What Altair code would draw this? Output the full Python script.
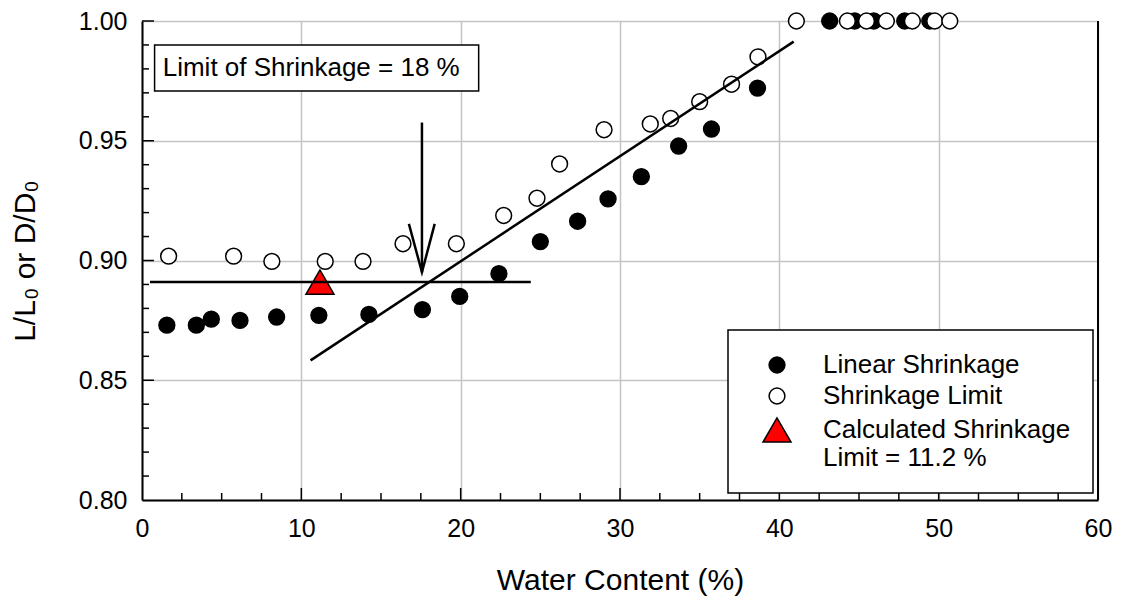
import altair as alt
import pandas as pd

# ---------------- data ----------------
series_names = ["Linear Shrinkage", "Shrinkage Limit", "Calculated Shrinkage Limit = 11.2 %"]

linear_w = [1.56, 3.41, 4.35, 6.15, 8.45, 11.1, 14.24, 17.6, 19.94, 22.4, 25.0, 27.34, 29.25,
            31.34, 33.68, 35.74, 38.63, 43.16, 44.73, 45.93, 47.87, 49.44]
linear_v = [0.873, 0.873, 0.8755, 0.875, 0.8764, 0.8771, 0.8775, 0.8795, 0.885, 0.8945, 0.9079,
            0.9164, 0.9257, 0.935, 0.9478, 0.9549, 0.972, 1.0, 1.0, 1.0, 1.0, 1.0]

limit_w = [1.67, 5.75, 8.15, 11.5, 13.87, 16.38, 19.73, 22.7, 24.79, 26.21, 29.0, 31.9, 33.18,
           35.0, 37.0, 38.66, 41.07, 44.27, 45.47, 46.72, 48.35, 49.75, 50.7]
limit_v = [0.9018, 0.9018, 0.8996, 0.8996, 0.8996, 0.907, 0.907, 0.9188, 0.926, 0.9403, 0.9546,
           0.957, 0.9593, 0.9663, 0.9736, 0.985, 1.0, 1.0, 1.0, 1.0, 1.0, 1.0, 1.0]

calc_w = [11.17]
calc_v = [0.891]

# fitted lines and arrow (segment id, water content, ratio)
seg_id = ["flat", "flat", "slope", "slope", "shaft", "shaft", "head", "head", "head"]
seg_w = [0.5, 24.4, 10.58, 40.9, 17.57, 17.57, 16.75, 17.57, 18.37]
seg_v = [0.891, 0.891, 0.8583, 0.9914, 0.9576, 0.8951, 0.9153, 0.8951, 0.9153]

# annotation box
note_text = ["Limit of Shrinkage = 18 %"]
note_box_w = [0.79, 21.13]
note_box_v = [0.99, 0.9708]
note_text_w = [1.3]
note_text_v = [0.9804]

x_ticks = [0, 10, 20, 30, 40, 50, 60]
y_ticks = [0.80, 0.85, 0.90, 0.95, 1.00]
x_minor = [2.5, 5, 7.5, 12.5, 15, 17.5, 22.5, 25, 27.5, 32.5, 35, 37.5, 42.5, 45, 47.5, 52.5, 55, 57.5]
x_major = [10, 20, 30, 40, 50]
y_minor = [0.81, 0.82, 0.83, 0.84, 0.86, 0.87, 0.88, 0.89, 0.91, 0.92, 0.93, 0.94,
           0.96, 0.97, 0.98, 0.99]
y_major = [0.85, 0.90, 0.95, 1.00]

FONT = "Liberation Sans"
W, H = 956, 479

# ---------------- tables ----------------
pts = pd.DataFrame({
    "w": linear_w + limit_w + calc_w,
    "v": linear_v + limit_v + calc_v,
    "series": [series_names[0]] * len(linear_w) + [series_names[1]] * len(limit_w)
              + [series_names[2]] * len(calc_w),
})
segs = pd.DataFrame({"seg": seg_id, "w": seg_w, "v": seg_v, "o": list(range(len(seg_w)))})
box = pd.DataFrame({"w": [note_box_w[0]], "w2": [note_box_w[1]],
                    "v": [note_box_v[0]], "v2": [note_box_v[1]]})
note = pd.DataFrame({"w": note_text_w, "v": note_text_v, "t": note_text})

X = alt.Scale(domain=[0, 60], nice=False, zero=False)
Y = alt.Scale(domain=[0.80, 1.00], nice=False, zero=False)

legend = alt.Legend(
    title=None, orient="none", legendX=586, legendY=309,
    fillColor="white", strokeColor="black", padding=22,
    labelFont=FONT, labelFontSize=26, labelColor="black", labelLimit=400,
    labelOffset=31, symbolOffset=12, rowPadding=5,
    symbolStrokeColor="black", symbolStrokeWidth=1.5,
    labelExpr="datum.label == 'Calculated Shrinkage Limit = 11.2 %' ? "
              "['Calculated Shrinkage', 'Limit = 11.2 %'] : datum.label",
)

x_axis = alt.Axis(
    values=x_ticks, format="d", title="Water Content (%)", grid=True,
    gridColor="#c4c4c4", gridWidth=1.5, ticks=False, tickSize=0,
    domainColor="black", domainWidth=2, labelFont=FONT, labelFontSize=25,
    labelColor="black", labelPadding=16, labelFlush=False,
    titleFont=FONT, titleFontSize=30, titleFontWeight="normal", titleColor="black",
    titleX=W / 2, titleY=80, titleBaseline="middle", titleAlign="center")
y_axis = alt.Axis(
    values=y_ticks, format=".2f", title="L/L\u2080 or D/D\u2080", grid=True,
    gridColor="#c4c4c4", gridWidth=1.5, ticks=False, tickSize=0,
    domainColor="black", domainWidth=2, labelFont=FONT, labelFontSize=25,
    labelColor="black", labelPadding=15, labelFlush=False,
    titleFont=FONT, titleFontSize=30, titleFontWeight="normal", titleColor="black",
    titleX=-117, titleY=H / 2, titleBaseline="middle", titleAlign="center")

points = alt.Chart(pts).mark_point(filled=True, strokeWidth=1.5, opacity=1).encode(
    x=alt.X("w:Q", scale=X, axis=x_axis),
    y=alt.Y("v:Q", scale=Y, axis=y_axis),
    fill=alt.Fill("series:N", scale=alt.Scale(domain=series_names, range=["black", "white", "#ff0000"]),
                  legend=legend),
    stroke=alt.Stroke("series:N", scale=alt.Scale(domain=series_names, range=["black", "black", "black"]),
                      legend=legend),
    shape=alt.Shape("series:N", scale=alt.Scale(domain=series_names,
                    range=["circle", "circle", "triangle-up"]), legend=legend),
    size=alt.Size("series:N", scale=alt.Scale(type="ordinal", domain=series_names, range=[250, 250, 784]),
                  legend=legend),
)

note_box = alt.Chart(box).mark_rect(fill="white", stroke="black", strokeWidth=1.5).encode(
    x=alt.X("w:Q", scale=X), x2="w2:Q",
    y=alt.Y("v:Q", scale=Y), y2="v2:Q",
)
note_lbl = alt.Chart(note).mark_text(align="left", baseline="middle", font=FONT, fontSize=26,
                                     color="black").encode(
    x=alt.X("w:Q", scale=X), y=alt.Y("v:Q", scale=Y), text="t:N")

lines = alt.Chart(segs).mark_line(color="black", strokeWidth=2.5).encode(
    x=alt.X("w:Q", scale=X), y=alt.Y("v:Q", scale=Y),
    detail="seg:N", order="o:Q")

xt_major = alt.Chart(pd.DataFrame({"w": x_major})).mark_rule(color="black", strokeWidth=1.5).encode(
    x=alt.X("w:Q", scale=X), y=alt.value(H), y2=alt.value(H - 12))
xt_minor = alt.Chart(pd.DataFrame({"w": x_minor})).mark_rule(color="black", strokeWidth=1.5).encode(
    x=alt.X("w:Q", scale=X), y=alt.value(H), y2=alt.value(H - 7))
yt_major = alt.Chart(pd.DataFrame({"v": y_major})).mark_rule(color="black", strokeWidth=1.5).encode(
    y=alt.Y("v:Q", scale=Y), x=alt.value(0), x2=alt.value(12))
yt_minor = alt.Chart(pd.DataFrame({"v": y_minor})).mark_rule(color="black", strokeWidth=1.5).encode(
    y=alt.Y("v:Q", scale=Y), x=alt.value(0), x2=alt.value(7))
right_border = alt.Chart(pd.DataFrame({"w": [60]})).mark_rule(color="black", strokeWidth=2).encode(
    x=alt.X("w:Q", scale=X), y=alt.value(0), y2=alt.value(H))

chart = alt.layer(
    points, note_box, note_lbl, lines, xt_major, xt_minor, yt_major, yt_minor, right_border
).properties(
    width=W, height=H,
    autosize=alt.AutoSizeParams(type="none"),
    padding={"left": 134, "top": 13, "right": 16, "bottom": 98},
).configure_view(stroke=None).configure_legend(strokeWidth=1.5)

chart.save("out.html", embed_options={"renderer": "svg", "actions": False})
